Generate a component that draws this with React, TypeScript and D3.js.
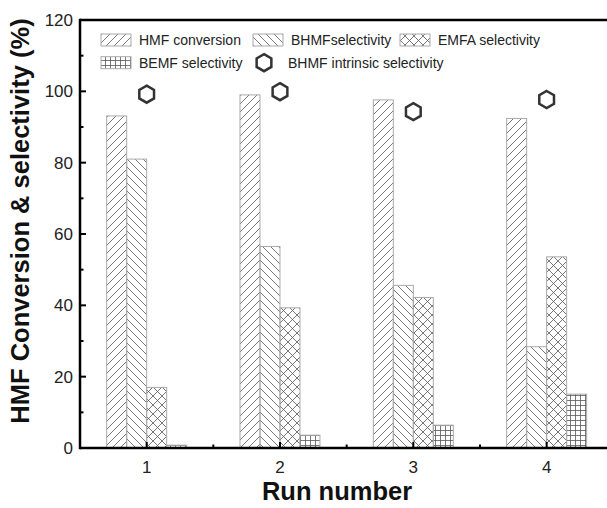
import * as d3 from "d3";

const runs = [1, 2, 3, 4];
const hmfConversion = [93.1, 99.0, 97.6, 92.4];
const bhmfSelectivity = [81.0, 56.5, 45.6, 28.4];
const emfaSelectivity = [17.0, 39.3, 42.2, 53.6];
const bemfSelectivity = [0.8, 3.6, 6.4, 15.1];
const bhmfIntrinsic = [99.2, 99.9, 94.3, 97.7];
const yTicks = [0, 20, 40, 60, 80, 100, 120];

const series = [
  { name: "HMF conversion", values: hmfConversion, pattern: "p-fwd" },
  { name: "BHMFselectivity", values: bhmfSelectivity, pattern: "p-back" },
  { name: "EMFA selectivity", values: emfaSelectivity, pattern: "p-cross" },
  { name: "BEMF selectivity", values: bemfSelectivity, pattern: "p-grid" },
];

const font = "Arial, 'Liberation Sans', Helvetica, sans-serif";

function hexPath(cx: number, cy: number, r: number) {
  const pts = d3.range(6).map((i) => {
    const a = (Math.PI / 3) * i - Math.PI / 2;
    return [cx + r * Math.cos(a), cy + r * Math.sin(a)] as [number, number];
  });
  return d3.line()(pts) + "Z";
}

export default function App() {
  const width = 607;
  const height = 508;
  const left = 80;
  const top = 20;
  const bottom = 448;
  const right = 613.3;

  const x = d3.scaleLinear().domain([0.5, 4.5]).range([left, right]);
  const y = d3.scaleLinear().domain([0, 120]).range([bottom, top]);
  const barW = x(0.15) - x(0);
  const offsets = [-0.225, -0.075, 0.075, 0.225];
  const minorY = d3.range(10, 120, 20);
  const minorX = [1.5, 2.5, 3.5];

  return (
    <svg
      width={width}
      height={height}
      style={{ position: "absolute", left: 0, top: 0, background: "#fff" }}
      fontFamily={font}
    >
      <defs>
        <pattern id="p-fwd" width={8} height={8} patternUnits="userSpaceOnUse">
          <path d="M-2,2 L2,-2 M0,8 L8,0 M6,10 L10,6" stroke="#555" strokeWidth={0.8} />
        </pattern>
        <pattern id="p-back" width={8} height={8} patternUnits="userSpaceOnUse">
          <path d="M-2,6 L2,10 M0,0 L8,8 M6,-2 L10,2" stroke="#555" strokeWidth={0.8} />
        </pattern>
        <pattern id="p-cross" width={9} height={9} patternUnits="userSpaceOnUse">
          <path d="M0,0 L9,9 M0,9 L9,0" stroke="#555" strokeWidth={0.8} />
        </pattern>
        <pattern id="p-grid" width={5} height={5} patternUnits="userSpaceOnUse">
          <path d="M0,0.5 L5,0.5 M0.5,0 L0.5,5" stroke="#555" strokeWidth={0.8} />
        </pattern>
      </defs>

      {series.map((s, si) =>
        s.values.map((v, i) => (
          <rect
            key={s.name + i}
            x={x(runs[i] + offsets[si]) - barW / 2}
            y={y(v)}
            width={barW}
            height={y(0) - y(v)}
            fill={`url(#${s.pattern})`}
            stroke="#aaa"
            strokeWidth={1}
          />
        ))
      )}

      {bhmfIntrinsic.map((v, i) => (
        <path
          key={"hex" + i}
          d={hexPath(x(runs[i]), y(v), 8.5)}
          fill="#fff"
          stroke="#333"
          strokeWidth={2.5}
        />
      ))}

      {/* frame */}
      <line x1={left} x2={left} y1={top - 1.2} y2={bottom + 1.2} stroke="#000" strokeWidth={2.5} />
      <line x1={left} x2={width} y1={bottom} y2={bottom} stroke="#000" strokeWidth={2.5} />
      <line x1={left} x2={width} y1={top} y2={top} stroke="#000" strokeWidth={2.5} />

      {yTicks.map((t) => (
        <g key={"yt" + t}>
          <line x1={left} x2={left + 6} y1={y(t)} y2={y(t)} stroke="#000" strokeWidth={2} />
          <text x={left - 7} y={y(t)} dy="0.36em" textAnchor="end" fontSize={17} fill="#222">
            {t}
          </text>
        </g>
      ))}
      {minorY.map((t) => (
        <line key={"ym" + t} x1={left} x2={left + 3.5} y1={y(t)} y2={y(t)} stroke="#000" strokeWidth={2} />
      ))}

      {runs.map((r) => (
        <g key={"xt" + r}>
          <line x1={x(r)} x2={x(r)} y1={bottom} y2={bottom - 6} stroke="#000" strokeWidth={2} />
          <text x={x(r)} y={473} textAnchor="middle" fontSize={17} fill="#222">
            {r}
          </text>
        </g>
      ))}
      {minorX.map((r) => (
        <line key={"xm" + r} x1={x(r)} x2={x(r)} y1={bottom} y2={bottom - 3.5} stroke="#000" strokeWidth={2} />
      ))}

      <text x={337} y={500} textAnchor="middle" fontSize={25.5} fontWeight="bold" fill="#111">
        Run number
      </text>
      <text
        transform={`translate(29, 221) rotate(-90)`}
        textAnchor="middle"
        fontSize={25.5}
        fontWeight="bold"
        fill="#111"
      >
        HMF Conversion &amp; selectivity (%)
      </text>

      {/* legend */}
      <g fontSize={14} fill="#222">
        {[
          { s: series[0], sx: 101, sy: 40 },
          { s: series[1], sx: 253, sy: 40 },
          { s: series[2], sx: 400, sy: 40 },
          { s: series[3], sx: 101, sy: 62.7 },
        ].map(({ s, sx, sy }) => (
          <g key={"lg" + s.name}>
            <rect x={sx} y={sy - 6} width={30} height={12} fill={`url(#${s.pattern})`} stroke="#aaa" strokeWidth={1} />
            <text x={sx + 38} y={sy} dy="0.36em">
              {s.name}
            </text>
          </g>
        ))}
        <path d={hexPath(264, 62.7, 8.5)} fill="#fff" stroke="#333" strokeWidth={2.5} />
        <text x={288} y={62.7} dy="0.36em">
          BHMF intrinsic selectivity
        </text>
      </g>
    </svg>
  );
}
